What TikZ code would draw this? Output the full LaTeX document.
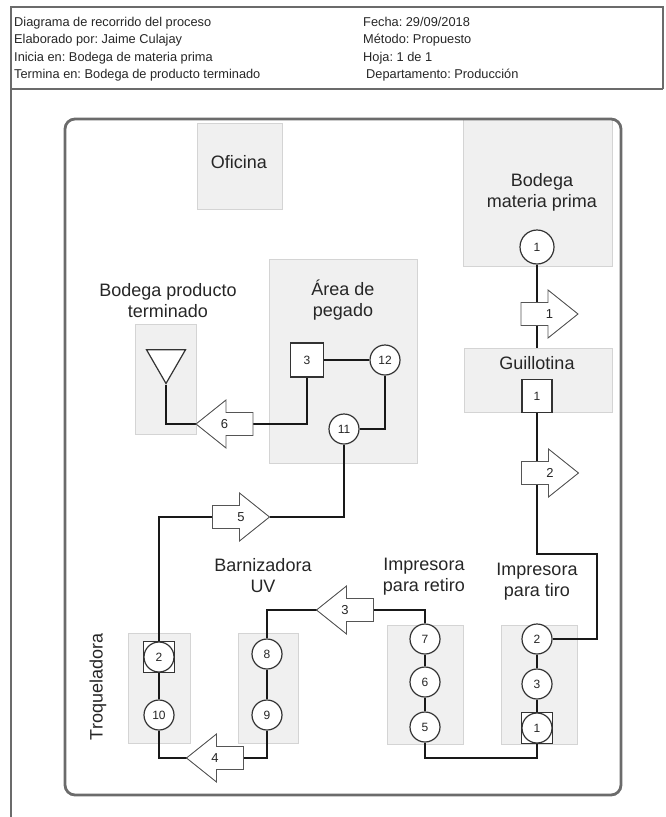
\documentclass[tikz,border=0pt]{standalone}
\usepackage{fontspec}
\setmainfont{Liberation Sans}
\usetikzlibrary{shapes.geometric}
\frenchspacing

\pgfdeclarelayer{areas}
\pgfdeclarelayer{links}
\pgfsetlayers{areas,links,main}

\definecolor{areafill}{HTML}{F0F0F0}
\definecolor{areaedge}{HTML}{D4D4D4}
\definecolor{framegray}{HTML}{6B6B6B}
\definecolor{symedge}{HTML}{333333}
\definecolor{arrowedge}{HTML}{555555}
\definecolor{inkgray}{HTML}{262626}

\tikzset{
  x=1pt, y=-1pt,
  hdr/.style={font=\fontsize{12.8}{15}\selectfont, text=inkgray, inner sep=0pt, anchor=base west},
  hdrline/.style={draw=framegray, line width=1.3pt},
  area/.style={draw=areaedge, fill=areafill, line width=0.8pt, inner sep=0pt},
  areatext/.style={font=\fontsize{18}{21}\selectfont, align=center, text=inkgray, inner sep=0pt},
  op/.style={circle, draw=symedge, fill=white, line width=1.2pt, minimum size=30pt,
    inner sep=0pt, font=\fontsize{12}{12}\selectfont, text=inkgray},
  insp/.style={rectangle, draw=symedge, fill=white, line width=1.2pt, inner sep=0pt,
    font=\fontsize{12}{12}\selectfont, text=inkgray},
  store/.style={regular polygon, regular polygon sides=3, regular polygon rotate=180,
    draw=symedge, fill=white, line width=1.2pt, minimum size=45pt, inner sep=0pt},
  flow/.style={line width=2.6pt, draw=black!90},
  pics/blockarrow/.style={code={
    \draw[draw=arrowedge, fill=white, line width=0.9pt]
      (-28.5,-11.5) -- (-1.5,-11.5) -- (-1.5,-24) -- (28.5,0) -- (-1.5,24)
      -- (-1.5,11.5) -- (-28.5,11.5) -- cycle;
    \node[font=\fontsize{13}{13}\selectfont, text=inkgray, inner sep=0pt] (-lbl) at (0,0) {#1};
    \coordinate (-tail) at (-28.5,0);
    \coordinate (-tip) at (28.5,0);
  }},
}

\begin{document}
\begin{tikzpicture}
\useasboundingbox (0,0) rectangle (666,817);

% header block
\draw[hdrline] (11,817) -- (11,7) -- (663,7) -- (663,89);
\draw[hdrline] (11,89) -- (663,89);
\node[hdr] (h1) at (14,26.5) {Diagrama de recorrido del proceso};
\node[hdr] (h2) at (14,43.5) {Elaborado por: Jaime Culajay};
\node[hdr] (h3) at (14,61) {Inicia en: Bodega de materia prima};
\node[hdr] (h4) at (14,78) {Termina en: Bodega de producto terminado};
\node[hdr] (h5) at (363,26.5) {Fecha: 29/09/2018};
\node[hdr] (h6) at (363,43.5) {Método: Propuesto};
\node[hdr] (h7) at (363,61) {Hoja: 1 de 1};
\node[hdr] (h8) at (366,78) {Departamento: Producción};

% plant outline
\draw[draw=framegray, line width=2.8pt, rounded corners=10pt] (65,119) rectangle (621,795);

% work areas
\begin{pgfonlayer}{areas}
\node[area, minimum width=85pt, minimum height=86pt] (oficina) at (239.5,166) {};
\node[area, minimum width=149pt, minimum height=148pt] (bodegamp) at (537.5,192) {};
\node[area, minimum width=148pt, minimum height=64pt] (guillotina) at (538,380) {};
\node[area, minimum width=76pt, minimum height=119pt] (tiro) at (539,684.5) {};
\node[area, minimum width=76pt, minimum height=119pt] (retiro) at (425,684.5) {};
\node[area, minimum width=60pt, minimum height=110pt] (barniz) at (268,688) {};
\node[area, minimum width=62pt, minimum height=110pt] (troq) at (159,688) {};
\node[area, minimum width=148pt, minimum height=204pt] (pegado) at (343,361) {};
\node[area, minimum width=61pt, minimum height=110pt] (bodegapt) at (165.5,379) {};
\end{pgfonlayer}

% area names
\node[areatext] (toficina) at (239,162) {Oficina};
\node[areatext] (tbodegamp) at (542,192) {Bodega\\materia prima};
\node[areatext] (tguillotina) at (537,363) {Guillotina};
\node[areatext] (ttiro) at (537,582) {Impresora\\para tiro};
\node[areatext] (tretiro) at (424,577) {Impresora\\para retiro};
\node[areatext] (tbarniz) at (263,576) {Barnizadora\\UV};
\node[areatext, rotate=90] (ttroq) at (98,687) {Troqueladora};
\node[areatext] (tpegado) at (343,300) {Área de\\pegado};
\node[areatext] (tbodegapt) at (168,301) {Bodega producto\\terminado};

% process symbols
\node[op, minimum size=34pt] (c1a) at (537,247) {1};
\node[insp, minimum width=30pt, minimum height=33pt] (sq1) at (537,396) {1};
\node[op] (c2t) at (537,639) {2};
\node[op] (c3t) at (537,684) {3};
\node[insp, minimum size=31pt] (s1t) at (537,728) {};
\node[op] (c1t) at (537,728) {1};
\node[op] (c7) at (425,639) {7};
\node[op] (c6) at (425,682) {6};
\node[op] (c5) at (425,727) {5};
\node[op] (c8) at (267,654) {8};
\node[op] (c9) at (267,715) {9};
\node[insp, minimum size=31pt] (s2q) at (159,657) {};
\node[op] (c2q) at (159,657) {2};
\node[op] (c10) at (159,715) {10};
\node[insp, minimum width=33pt, minimum height=34pt] (sq3) at (307,360) {3};
\node[op] (c12) at (385,360) {12};
\node[op] (c11) at (344,429) {11};
\node[store] (tri) at (166,361) {};

% transport arrows
\pic (a1) at (549.5,314) {blockarrow=1};
\pic (a2) at (550,473) {blockarrow=2};
\pic[rotate=180] (a3) at (345,610) {blockarrow=3};
\pic[rotate=180] (a4) at (215,758) {blockarrow=4};
\pic (a5) at (241,517) {blockarrow=5};
\pic[rotate=180] (a6) at (224.5,424) {blockarrow=6};

% bends of the route
\coordinate (k1) at (597,554);
\coordinate (k2) at (425,758);

% route
\begin{pgfonlayer}{links}
\draw[flow] (c1a) -- (c1a |- guillotina.north);
\draw[flow] (sq1) |- (k1) |- (c2t);
\draw[flow] (c2t) -- (c3t);
\draw[flow] (c3t) -- (c1t);
\draw[flow] (c1t) |- (k2) -- (c5);
\draw[flow] (c5) -- (c6);
\draw[flow] (c6) -- (c7);
\draw[flow] (c7) |- (a3-tail);
\draw[flow] (a3-tip) -| (c8);
\draw[flow] (c8) -- (c9);
\draw[flow] (c9) |- (a4-tail);
\draw[flow] (a4-tip) -| (c10);
\draw[flow] (c10) -- (c2q);
\draw[flow] (c2q) |- (a5-tail);
\draw[flow] (a5-tip) -| (c11);
\draw[flow] (c11) -| (c12);
\draw[flow] (c12) -- (sq3);
\draw[flow] (sq3) |- (a6-tail);
\draw[flow] (a6-tip) -| (tri);
\end{pgfonlayer}
\end{tikzpicture}
\end{document}
